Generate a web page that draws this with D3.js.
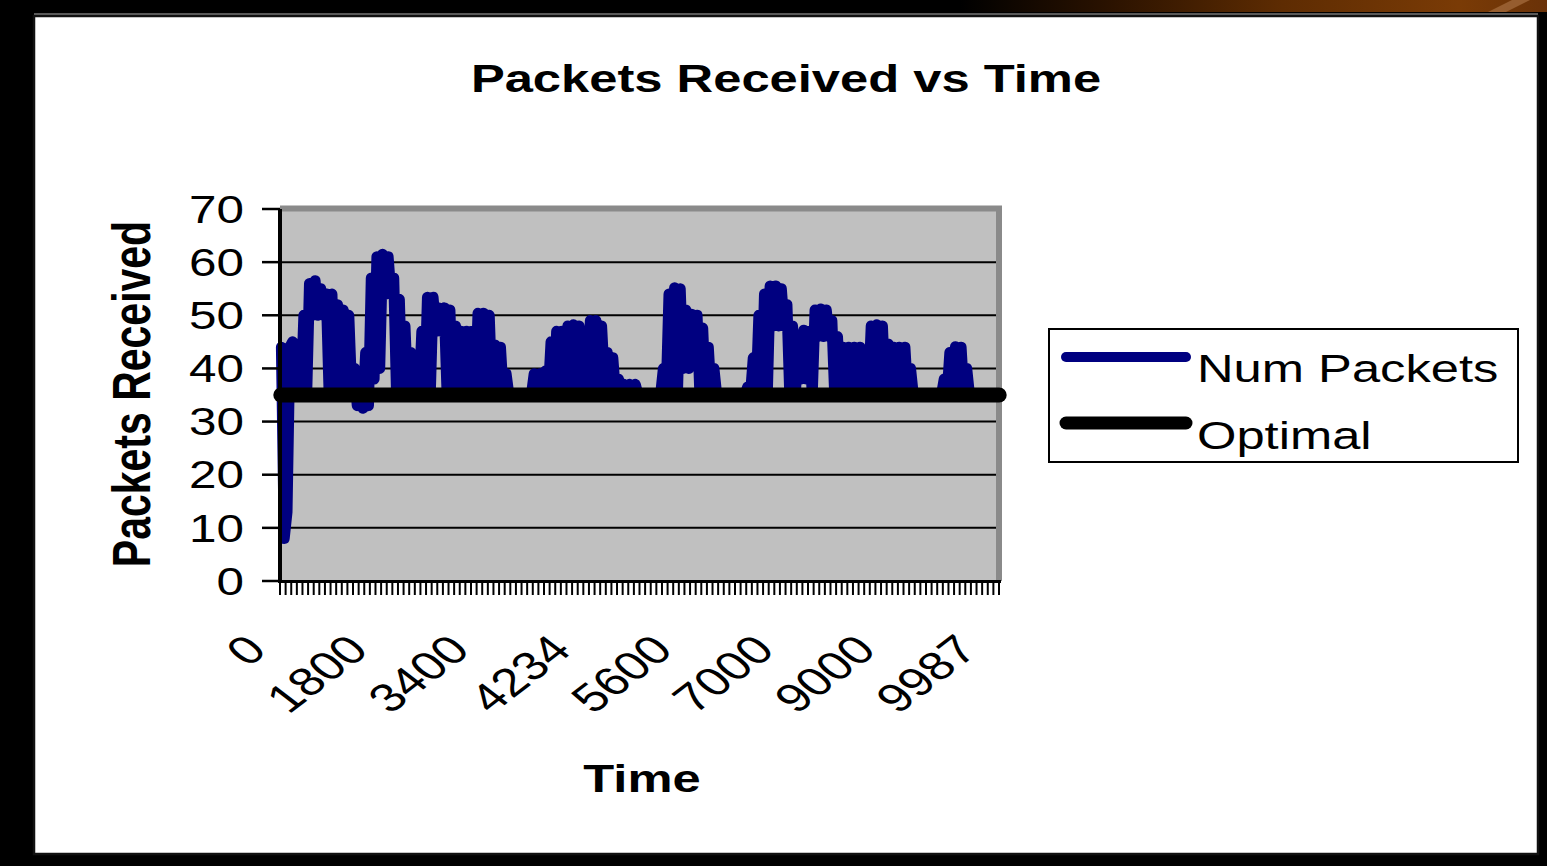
<!DOCTYPE html>
<html>
<head>
<meta charset="utf-8">
<script src="https://cdn.jsdelivr.net/npm/d3@7"></script>
<style>
  html, body { margin: 0; padding: 0; background: #000; overflow: hidden; }
  svg { display: block; }
  text { font-family: "Liberation Sans", Arial, sans-serif; fill: #000; }
</style>
</head>
<body>
<svg id="chart" width="1547" height="866"></svg>
<script>
// Time labels shown on the category axis (one label every 18 samples)
const timeLabels = ["0", "1800", "3400", "4234", "5600", "7000", "9000", "9987"];
const labelEvery = 18;

// Packets received per sample slot: highest and lowest reading inside each slot
const packetsHigh = [
  44, 13, 45, 44, 50, 56, 56.5, 55, 54, 54,
  52, 51, 50, 40, 36, 43, 57, 61, 61.5, 61,
  57, 53, 48, 43, 39, 47, 53.4, 53.4, 51.4, 51.4,
  51, 48, 47, 47, 47, 50.4, 50.4, 50, 44.4, 44,
  39, 35, 35, 35, 35, 39, 39, 39.5, 45, 47,
  47, 48, 48.2, 48, 43, 49, 49, 48, 43, 42,
  38, 37, 37, 37, 35, 35, 35, 35, 40, 54,
  55.2, 55, 51, 50.2, 50, 47.6, 44, 40, 35, 35,
  35, 35, 35, 36.5, 42, 50, 54, 55.5, 55.5, 55,
  52, 48, 46.3, 47.2, 47, 51, 51.2, 51, 49, 46,
  44, 44, 44, 44, 40, 48, 48.2, 48, 44.6, 44,
  44, 44, 40, 35, 35, 35, 35, 35, 38, 43,
  44.1, 44, 40, 35, 35, 35, 35, 35
];
const packetsLow = [
  8, 44, 35, 35, 35, 50, 50, 50, 35, 35,
  35, 35, 36, 33, 32.5, 33, 38, 40, 54, 54,
  35, 35, 35, 35, 35, 35, 35, 47, 47, 35,
  35, 35, 35, 35, 35, 35, 40, 35, 35, 35,
  35, 35, 35, 35, 35, 35, 35, 35, 35, 35,
  35, 35, 35, 35, 35, 35, 35, 38, 35, 35,
  35, 35, 35, 35, 35, 35, 35, 35, 35, 35,
  35, 40, 40, 45, 35, 35, 35, 35, 35, 35,
  35, 35, 35, 35, 35, 35, 35, 48, 48, 48,
  35, 35, 38, 38, 35, 46, 46, 46, 35, 35,
  35, 35, 35, 35, 35, 35, 35, 35, 38, 35,
  35, 35, 35, 35, 35, 35, 35, 35, 35, 35,
  35, 35, 35, 35, 35, 35, 35, 35
];

// Target packet rate
const optimalPackets = 35;

const yTicks = [0, 10, 20, 30, 40, 50, 60, 70];
const seriesNames = ["Num Packets", "Optimal"];
const seriesColors = ["#000080", "#000000"];

// Text in this chart is drawn wide: glyphs are stretched horizontally
const SX = 1.3;

const svg = d3.select("#chart");

// ---- slide background and chart frame ----
const defs = svg.append("defs");
const grad = defs.append("linearGradient").attr("id", "topGlow")
  .attr("x1", "0%").attr("x2", "100%").attr("y1", "0%").attr("y2", "0%");
[["0%", "#000000"], ["25%", "#2a1200"], ["55%", "#5e2c02"], ["85%", "#7a3b06"], ["100%", "#6a3208"]]
  .forEach(([o, c]) => grad.append("stop").attr("offset", o).attr("stop-color", c));

svg.append("rect").attr("width", 1547).attr("height", 866).attr("fill", "#000");
svg.append("rect").attr("x", 960).attr("y", 0).attr("width", 587).attr("height", 12).attr("fill", "url(#topGlow)");
svg.append("path").attr("d", "M1488,12 L1512,0 L1530,0 L1506,12 Z").attr("fill", "#a0683a").attr("opacity", 0.8);

svg.append("rect")
  .attr("x", 34).attr("y", 16).attr("width", 1504).attr("height", 838)
  .attr("fill", "#fff").attr("stroke", "#111").attr("stroke-width", 2.5);
svg.append("line").attr("x1", 34).attr("x2", 1538).attr("y1", 14).attr("y2", 14)
  .attr("stroke", "#777").attr("stroke-width", 1.5);

// ---- plot area ----
const plot = { left: 280, right: 999, top: 209, bottom: 581 };

const x = d3.scaleBand()
  .domain(d3.range(packetsHigh.length))
  .range([plot.left, plot.right]);
const bw = x.bandwidth();

const y = d3.scaleLinear().domain([0, 70]).range([plot.bottom, plot.top]);

svg.append("rect")
  .attr("x", plot.left).attr("y", plot.top)
  .attr("width", plot.right - plot.left).attr("height", plot.bottom - plot.top)
  .attr("fill", "#c0c0c0");

// horizontal gridlines
svg.append("g").selectAll("line")
  .data(yTicks.filter(v => v > 0))
  .join("line")
  .attr("x1", plot.left).attr("x2", plot.right - 3)
  .attr("y1", d => y(d)).attr("y2", d => y(d))
  .attr("stroke", "#000").attr("stroke-width", 2);

// grey plot-area border (top and right)
svg.append("path")
  .attr("d", `M${plot.left},${plot.top - 0.5} L${plot.right},${plot.top - 0.5} L${plot.right},${plot.bottom}`)
  .attr("fill", "none").attr("stroke", "#8a8a8a").attr("stroke-width", 6);

// ---- series: Num Packets ----
const packetPoints = [];
packetsHigh.forEach((hi, i) => {
  packetPoints.push([x(i) + bw * 0.25, hi]);
  packetPoints.push([x(i) + bw * 0.75, packetsLow[i]]);
});
const line = d3.line().x(d => d[0]).y(d => y(d[1]));

svg.append("path")
  .attr("d", line(packetPoints))
  .attr("fill", "none")
  .attr("stroke", seriesColors[0])
  .attr("stroke-width", 11)
  .attr("stroke-linejoin", "round")
  .attr("stroke-linecap", "round");

// ---- axes ----
// y axis
svg.append("line")
  .attr("x1", plot.left).attr("x2", plot.left)
  .attr("y1", plot.top).attr("y2", plot.bottom + 2)
  .attr("stroke", "#000").attr("stroke-width", 4);
svg.append("g").selectAll("line")
  .data(yTicks).join("line")
  .attr("x1", plot.left - 18).attr("x2", plot.left)
  .attr("y1", d => y(d)).attr("y2", d => y(d))
  .attr("stroke", "#000").attr("stroke-width", 2.5);
svg.append("g").selectAll("text")
  .data(yTicks).join("text")
  .attr("transform", d => `translate(${plot.left - 36},${y(d)}) scale(${SX},1)`)
  .attr("text-anchor", "end")
  .attr("dy", "0.36em")
  .attr("font-size", 38)
  .text(d => d);

// x axis
svg.append("line")
  .attr("x1", plot.left - 2).attr("x2", plot.right + 2)
  .attr("y1", plot.bottom + 0.5).attr("y2", plot.bottom + 0.5)
  .attr("stroke", "#000").attr("stroke-width", 3);
const tickXs = x.domain().map(i => x(i)).concat([plot.right]);
svg.append("g").selectAll("line")
  .data(tickXs).join("line")
  .attr("x1", d => d).attr("x2", d => d)
  .attr("y1", plot.bottom).attr("y2", plot.bottom + 14)
  .attr("stroke", "#000").attr("stroke-width", 2);

const labelled = x.domain().filter(i => i % labelEvery === 0);
svg.append("g").selectAll("text")
  .data(labelled).join("text")
  .attr("transform", i => `translate(${x(i) + bw / 2 - 14 + i / 40},652) scale(${SX},1) rotate(-45)`)
  .attr("text-anchor", "end")
  .attr("font-size", 40)
  .text(i => timeLabels[i / labelEvery]);

// ---- series: Optimal ----
svg.append("line")
  .attr("x1", x(0) + bw / 2 - 2).attr("x2", x(packetsHigh.length - 1) + bw / 2 + 3)
  .attr("y1", y(optimalPackets)).attr("y2", y(optimalPackets))
  .attr("stroke", seriesColors[1])
  .attr("stroke-width", 15)
  .attr("stroke-linecap", "round");

// ---- titles ----
svg.append("text")
  .attr("transform", `translate(786,92) scale(${SX},1)`)
  .attr("text-anchor", "middle")
  .attr("font-size", 39).attr("font-weight", "bold")
  .text("Packets Received vs Time");

svg.append("text")
  .attr("transform", `translate(642,792) scale(${SX},1)`)
  .attr("text-anchor", "middle")
  .attr("font-size", 39).attr("font-weight", "bold")
  .text("Time");

svg.append("text")
  .attr("transform", `translate(150,394) scale(${SX},1) rotate(-90)`)
  .attr("text-anchor", "middle")
  .attr("font-size", 41).attr("font-weight", "bold")
  .text("Packets Received");

// ---- legend ----
const legend = svg.append("g");
legend.append("rect")
  .attr("x", 1049).attr("y", 329).attr("width", 469).attr("height", 133)
  .attr("fill", "#fff").attr("stroke", "#000").attr("stroke-width", 2);
const legendRows = [
  { name: seriesNames[0], color: seriesColors[0], width: 10, y: 357, ty: 382 },
  { name: seriesNames[1], color: seriesColors[1], width: 13, y: 423, ty: 449 }
];
legendRows.forEach(r => {
  legend.append("line")
    .attr("x1", 1066).attr("x2", 1186)
    .attr("y1", r.y).attr("y2", r.y)
    .attr("stroke", r.color).attr("stroke-width", r.width)
    .attr("stroke-linecap", "round");
  legend.append("text")
    .attr("transform", `translate(1197,${r.ty}) scale(${SX},1)`)
    .attr("font-size", 39)
    .attr("fill", "#1a1a1a")
    .text(r.name);
});
</script>
</body>
</html>
